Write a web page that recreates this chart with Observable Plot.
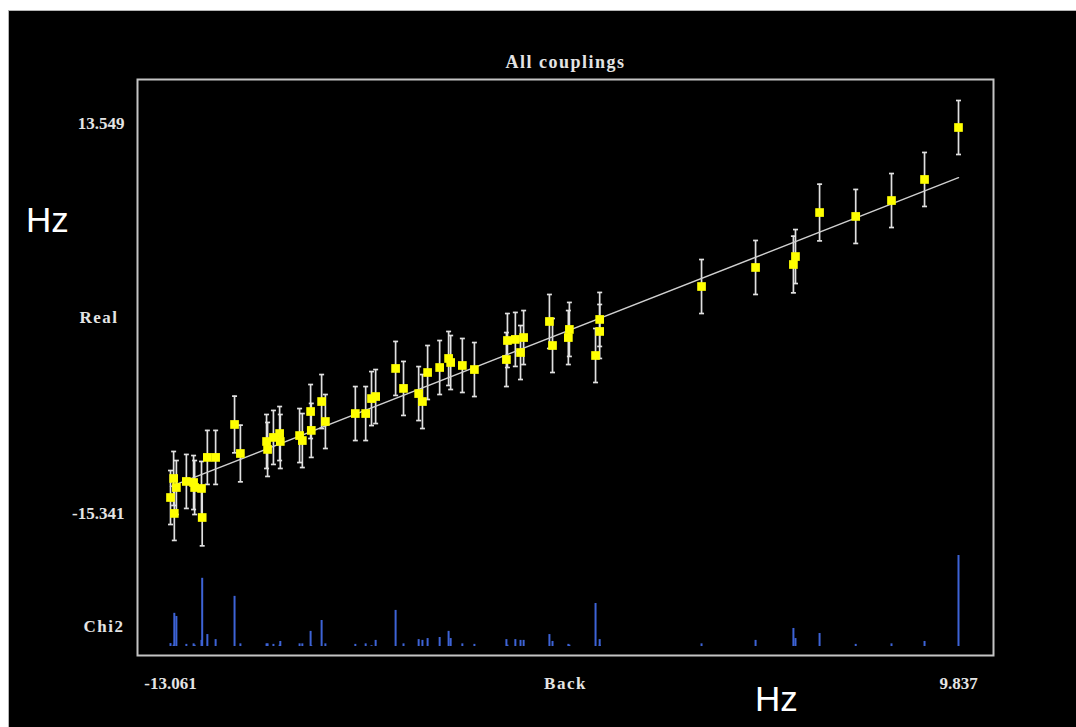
<!DOCTYPE html>
<html><head><meta charset="utf-8">
<script src="https://cdn.jsdelivr.net/npm/d3@7"></script>
<script src="https://cdn.jsdelivr.net/npm/@observablehq/plot@0.6"></script>
<style>
html,body{margin:0;padding:0;background:#fff;}
#wrap{position:relative;width:1076px;height:727px;overflow:hidden;}
#panel{position:absolute;left:8px;top:10px;right:0;bottom:0;background:#000;border-left:1px solid #b4b4b4;border-top:1px solid #b4b4b4;}
#wrap svg{position:absolute;left:0;top:0;}
#wrap svg g[aria-label="text"]{letter-spacing:1.5px;}
.hz{position:absolute;color:#fff;font-family:"Liberation Sans",Arial,sans-serif;font-size:35px;line-height:1;}
</style></head><body>
<div id="wrap"><div id="panel"></div>
<div class="hz" style="left:26px;top:202px">Hz</div>
<div class="hz" style="left:755px;top:681px">Hz</div>
</div>
<script>
// "Back" (x) and "Real" (y) values of each coupling, in Hz
const back = [-13.061, -12.97, -12.89, -12.95, -12.60, -12.39, -12.36, -12.16, -12.14, -11.99,
  -11.75, -11.20, -11.03, -10.27, -10.24, -10.07, -9.89, -9.87, -9.31, -9.23,
  -8.99, -8.97, -8.67, -8.56, -7.69, -7.39, -7.22, -7.10, -6.52, -6.29,
  -5.85, -5.74, -5.59, -5.24, -4.98, -4.92, -4.58, -4.23, -3.30, -3.27,
  -3.04, -2.80, -2.89, -2.05, -1.96, -1.47, -1.50, -0.59, -0.59, -0.71,
  2.37, 3.94, 5.04, 5.10, 5.80, 6.85, 7.89, 8.85, 9.837];
const real = [-13.86, -12.45, -13.12, -15.04, -12.67, -12.75, -13.12, -13.19, -15.341, -10.89,
  -10.89, -8.45, -10.60, -9.71, -10.30, -9.41, -9.12, -9.71, -9.27, -9.64,
  -7.49, -8.89, -6.75, -8.23, -7.64, -7.64, -6.53, -6.38, -4.30, -5.78,
  -6.16, -6.75, -4.60, -4.23, -3.56, -3.86, -4.08, -4.38, -3.64, -2.23,
  -2.15, -2.01, -3.12, -0.82, -2.60, -1.41, -2.01, -0.67, -1.56, -3.34,
  1.77, 3.18, 3.40, 3.99, 7.25, 6.96, 8.14, 9.70, 13.549];
const err = [2.0, 2.0, 2.0, 2.0, 2.0, 2.0, 2.0, 2.0, 2.1, 2.0,
  2.0, 2.1, 2.1, 2.0, 2.0, 2.0, 2.0, 2.0, 2.0, 2.0,
  2.0, 2.0, 2.0, 2.0, 2.0, 2.0, 2.0, 2.0, 2.0, 2.0,
  2.0, 2.0, 2.0, 2.0, 2.0, 2.0, 2.0, 2.0, 2.0, 2.0,
  2.0, 2.0, 2.0, 2.0, 2.0, 2.0, 2.0, 2.0, 2.0, 2.0,
  2.0, 2.0, 2.1, 2.0, 2.1, 2.0, 2.0, 2.0, 2.0];
const chi2 = [0.11, 0.05, 1.13, 1.25, 0.08, 0.10, 0.05, 0.23, 2.57, 0.45,
  0.26, 1.89, 0.10, 0.10, 0.10, 0.08, 0.05, 0.19, 0.10, 0.10,
  0.57, 0.03, 0.98, 0.10, 0.08, 0.10, 0.03, 0.23, 1.36, 0.10,
  0.26, 0.23, 0.30, 0.34, 0.57, 0.30, 0.10, 0.08, 0.26, 0.05,
  0.26, 0.23, 0.23, 0.45, 0.19, 0.05, 0.08, 0.26, 0.05, 1.62,
  0.10, 0.23, 0.68, 0.30, 0.49, 0.08, 0.10, 0.19, 3.43];
const xTicks = [-13.061, 9.837];
const yTicks = [-15.341, 13.549];
const fitX = [-13.061, 9.837];
const fitY = [-13.061, 9.837];
const titleText = "All couplings";
const xLabel = "Back", yLabel = "Real", chiLabel = "Chi2";

const pts = back.map((b, i) => ({back: b, real: real[i], err: err[i], chi2: chi2[i]}));
const fit = fitX.map((x, i) => ({x, y: fitY[i]}));
const fmt = d => d.toFixed(3);
const cap = {draw(ctx) { ctx.moveTo(-2.5, 0); ctx.lineTo(2.5, 0); }};

const W = 1076, H = 727;
const common = {
  width: W, height: H,
  marginLeft: 137, marginRight: 83,
  style: {background: "none", color: "#e4e4e4", fontFamily: "'Liberation Serif', serif",
          fontSize: "17px", fontWeight: "bold", overflow: "visible"}
};
const xScale = {domain: [xTicks[0], xTicks[1]], range: [170, 958]};

const mainPlot = Plot.plot({
  ...common,
  marginTop: 79, marginBottom: 72,
  x: xScale,
  y: {domain: yTicks, range: [517, 127]},
  marks: [
    Plot.frame({stroke: "#c4c4c4", strokeWidth: 2}),
    Plot.axisX(xTicks, {tickSize: 0, tickPadding: 21, tickFormat: fmt}),
    Plot.axisY(yTicks, {tickSize: 0, tickPadding: 13, tickFormat: fmt, dy: -4}),
    Plot.ruleX(pts, {x: "back", y1: d => d.real - d.err, y2: d => d.real + d.err, stroke: "#e0e0e0", strokeWidth: 1.7}),
    Plot.dot(pts, {x: "back", y: d => d.real + d.err, symbol: cap, r: 3, stroke: "#e0e0e0", fill: "none", strokeWidth: 1.7}),
    Plot.dot(pts, {x: "back", y: d => d.real - d.err, symbol: cap, r: 3, stroke: "#e0e0e0", fill: "none", strokeWidth: 1.7}),
    Plot.line(fit, {x: "x", y: "y", stroke: "#d0d0d0", strokeWidth: 1.4}),
    Plot.dot(pts, {x: "back", y: "real", symbol: "square", r: 4.9, fill: "#ffff00", stroke: "none"}),
    Plot.text([titleText], {frameAnchor: "top", lineAnchor: "middle", dy: -17, fontSize: 18}),
    Plot.text([xLabel], {frameAnchor: "bottom", lineAnchor: "middle", dy: 28}),
    Plot.text([yLabel], {y: [d3.mean(yTicks)], frameAnchor: "left", textAnchor: "end", dx: -19, dy: -5})
  ]
});

const chiPlot = Plot.plot({
  ...common,
  marginTop: 555, marginBottom: 81,
  x: {...xScale, axis: null},
  y: {domain: [0, d3.max(chi2)], axis: null},
  marks: [
    Plot.ruleX(pts, {x: "back", y1: 0, y2: "chi2", stroke: "#3d63d6", strokeWidth: 2}),
    Plot.text([chiLabel], {frameAnchor: "left", textAnchor: "end", dx: -13, dy: 26})
  ]
});

const wrap = document.getElementById("wrap");
wrap.appendChild(mainPlot);
wrap.appendChild(chiPlot);
</script>
</body></html>
